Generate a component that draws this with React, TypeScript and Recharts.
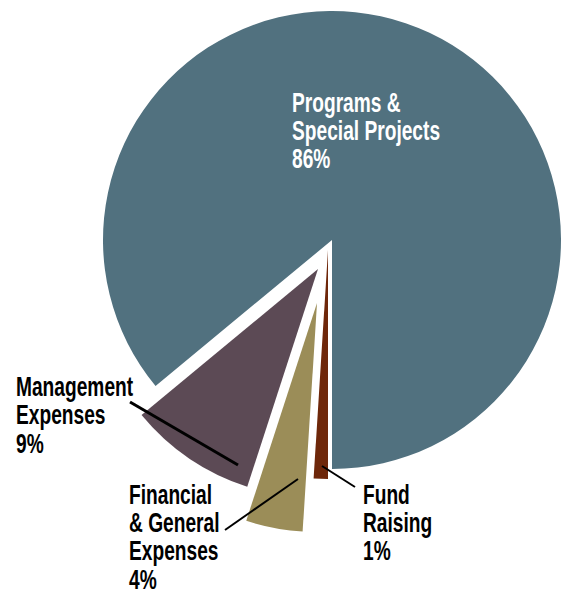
import { PieChart, Pie, Cell } from 'recharts'

const categories = ['Programs & Special Projects', 'Management Expenses', 'Financial & General Expenses', 'Fund Raising']
const shares = [86, 9, 4, 1]
const labelRows = [
  ['Programs &', 'Special Projects'],
  ['Management', 'Expenses'],
  ['Financial', '& General', 'Expenses'],
  ['Fund', 'Raising'],
]

const colors = ['#51717f', '#5c4a55', '#9b8d58', '#6e270a']
// how far each small slice is pulled out of the pie
const explode = [
  { dx: 0, dy: 0 },
  { dx: -14, dy: 29 },
  { dx: -15, dy: 63 },
  { dx: -4, dy: 10 },
]
const CX = 332
const CY = 240
const R = 229

const labelPos = [
  { x: 292, y: 111.5, fill: '#fff' },
  { x: 16, y: 396, fill: '#000' },
  { x: 129, y: 503.5, fill: '#000' },
  { x: 363, y: 503.5, fill: '#000' },
]
const leaders: (number[] | null)[] = [null, [130, 402, 238, 465], [225, 530, 298, 479], [322, 466, 355, 487]]

const data = categories.map((name, i) => ({ name, value: shares[i] }))
const font = "'Liberation Sans', Arial, sans-serif"
const LINE = 28.4

const renderLabel = (k: number) => (props: any) => {
  if (props.index !== k) return null
  const p = labelPos[k]
  const l = leaders[k]
  return (
    <g key={`lab-${k}`}>
      {l ? <line x1={l[0]} y1={l[1]} x2={l[2]} y2={l[3]} stroke="#000" strokeWidth={k === 1 ? 3 : 2} /> : null}
      <text
        transform={`translate(${p.x},${p.y}) scale(0.71,1)`}
        fill={p.fill}
        fontFamily={font}
        fontWeight="bold"
        fontSize={27}
      >
        {[...labelRows[k], `${shares[k]}%`].map((r, j) => (
          <tspan key={j} x={0} y={j * LINE}>
            {r}
          </tspan>
        ))}
      </text>
    </g>
  )
}

export default function App() {
  return (
    <div style={{ position: 'absolute', left: 0, top: 0, width: 562, height: 590, background: '#fff' }}>
      <PieChart width={562} height={590} margin={{ top: 0, right: 0, bottom: 0, left: 0 }}>
        {data.map((_, k) => (
          <Pie
            key={k}
            data={data}
            dataKey="value"
            nameKey="name"
            cx={CX + explode[k].dx}
            cy={CY + explode[k].dy}
            outerRadius={R}
            startAngle={-90}
            endAngle={270}
            isAnimationActive={false}
            label={renderLabel(k)}
            labelLine={false}
          >
            {data.map((_, i) => (
              <Cell key={i} fill={i === k ? colors[i] : 'none'} stroke="none" />
            ))}
          </Pie>
        ))}
      </PieChart>
    </div>
  )
}
